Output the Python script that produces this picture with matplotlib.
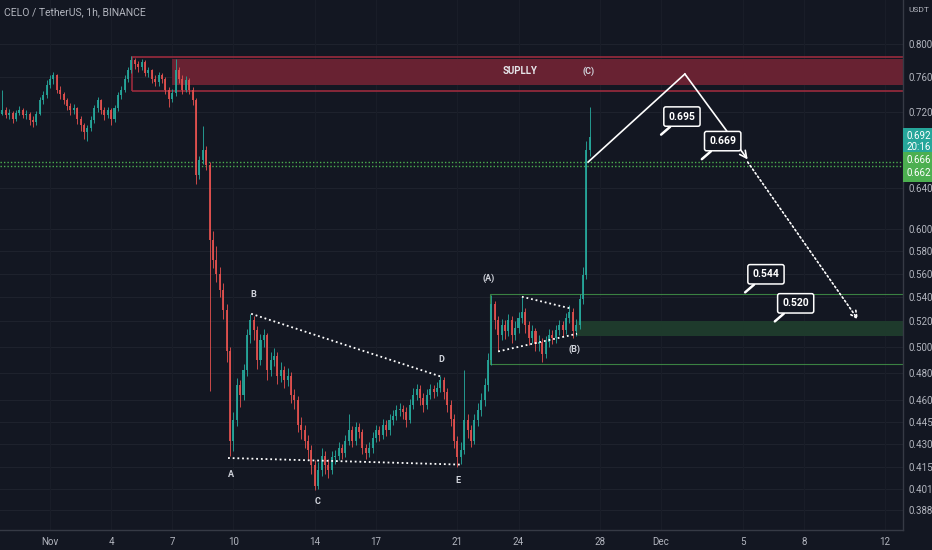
import numpy as np
import pandas as pd
import matplotlib
matplotlib.use("Agg")
import matplotlib.pyplot as plt
import matplotlib.dates as mdates
from matplotlib.patches import Rectangle
from matplotlib.ticker import FixedLocator, NullLocator
from matplotlib import font_manager

names = {f.name for f in font_manager.fontManager.ttflist}
narrow = "Liberation Sans Narrow" if "Liberation Sans Narrow" in names else "Roboto"
plt.rcParams['font.family'] = [narrow, 'DejaVu Sans']

# ---- data (4h candles, CELO/USDT) ----
first_open = 0.714
closes = [0.718, 0.722, 0.716, 0.719, 0.712, 0.719, 0.722, 0.716, 0.718, 0.711,
          0.709, 0.718, 0.733, 0.739, 0.751, 0.758, 0.762, 0.745, 0.740, 0.733,
          0.727, 0.722, 0.724, 0.712, 0.705, 0.698, 0.702, 0.711, 0.724, 0.733,
          0.722, 0.716, 0.722, 0.712, 0.724, 0.739, 0.745, 0.758, 0.768, 0.780,
          0.775, 0.772, 0.778, 0.765, 0.768, 0.758, 0.754, 0.762, 0.758, 0.745,
          0.735, 0.741, 0.768, 0.758, 0.745, 0.757, 0.745, 0.733, 0.653, 0.668,
          0.679, 0.663, 0.590, 0.572, 0.560, 0.546, 0.529, 0.497, 0.432, 0.446,
          0.471, 0.464, 0.482, 0.509, 0.521, 0.513, 0.490, 0.505, 0.509, 0.482,
          0.490, 0.493, 0.478, 0.482, 0.475, 0.478, 0.464, 0.460, 0.443, 0.439,
          0.432, 0.426, 0.416, 0.403, 0.413, 0.422, 0.416, 0.413, 0.421, 0.422,
          0.427, 0.424, 0.432, 0.439, 0.432, 0.441, 0.438, 0.427, 0.424, 0.427,
          0.434, 0.439, 0.436, 0.443, 0.439, 0.446, 0.449, 0.453, 0.454, 0.452,
          0.446, 0.457, 0.464, 0.468, 0.462, 0.457, 0.464, 0.468, 0.466, 0.469,
          0.475, 0.466, 0.457, 0.447, 0.432, 0.421, 0.426, 0.446, 0.439, 0.432,
          0.446, 0.453, 0.460, 0.471, 0.490, 0.534, 0.521, 0.509, 0.517, 0.512,
          0.521, 0.509, 0.515, 0.523, 0.528, 0.517, 0.507, 0.512, 0.502, 0.504,
          0.494, 0.504, 0.509, 0.507, 0.513, 0.517, 0.513, 0.523, 0.528, 0.512,
          0.517, 0.538, 0.559, 0.679, 0.692]
highs = [0.721, 0.745, 0.726, 0.723, 0.721, 0.722, 0.727, 0.724, 0.722, 0.720,
         0.715, 0.721, 0.737, 0.744, 0.756, 0.763, 0.766, 0.764, 0.749, 0.743,
         0.736, 0.730, 0.729, 0.726, 0.715, 0.708, 0.706, 0.715, 0.728, 0.737,
         0.735, 0.725, 0.726, 0.724, 0.728, 0.743, 0.750, 0.763, 0.772, 0.785,
         0.783, 0.779, 0.782, 0.780, 0.772, 0.770, 0.762, 0.766, 0.765, 0.760,
         0.748, 0.746, 0.781, 0.772, 0.762, 0.761, 0.759, 0.748, 0.736, 0.672,
         0.704, 0.683, 0.666, 0.598, 0.585, 0.566, 0.552, 0.534, 0.500, 0.452,
         0.476, 0.475, 0.487, 0.514, 0.526, 0.524, 0.516, 0.510, 0.514, 0.511,
         0.496, 0.499, 0.496, 0.488, 0.485, 0.484, 0.481, 0.468, 0.463, 0.448,
         0.443, 0.436, 0.429, 0.419, 0.418, 0.427, 0.425, 0.420, 0.425, 0.426,
         0.431, 0.430, 0.436, 0.450, 0.442, 0.445, 0.444, 0.440, 0.430, 0.431,
         0.438, 0.443, 0.442, 0.447, 0.446, 0.450, 0.453, 0.457, 0.458, 0.457,
         0.455, 0.461, 0.469, 0.472, 0.471, 0.465, 0.468, 0.472, 0.471, 0.473,
         0.478, 0.477, 0.469, 0.460, 0.450, 0.435, 0.431, 0.482, 0.450, 0.443,
         0.450, 0.458, 0.465, 0.476, 0.495, 0.542, 0.537, 0.524, 0.522, 0.521,
         0.526, 0.524, 0.520, 0.528, 0.540, 0.531, 0.520, 0.517, 0.515, 0.509,
         0.507, 0.508, 0.514, 0.513, 0.517, 0.521, 0.520, 0.527, 0.533, 0.531,
         0.522, 0.543, 0.566, 0.688, 0.725]
lows = [0.711, 0.716, 0.713, 0.712, 0.708, 0.710, 0.716, 0.713, 0.712, 0.706,
        0.703, 0.706, 0.716, 0.729, 0.736, 0.747, 0.752, 0.741, 0.735, 0.729,
        0.722, 0.717, 0.718, 0.707, 0.699, 0.690, 0.688, 0.699, 0.708, 0.720,
        0.718, 0.711, 0.713, 0.706, 0.709, 0.721, 0.735, 0.742, 0.754, 0.765,
        0.770, 0.766, 0.768, 0.761, 0.760, 0.753, 0.749, 0.750, 0.753, 0.740,
        0.725, 0.731, 0.738, 0.753, 0.740, 0.742, 0.740, 0.728, 0.644, 0.649,
        0.664, 0.658, 0.467, 0.565, 0.553, 0.540, 0.522, 0.488, 0.422, 0.425,
        0.442, 0.455, 0.460, 0.478, 0.503, 0.505, 0.483, 0.486, 0.500, 0.475,
        0.478, 0.485, 0.472, 0.473, 0.469, 0.470, 0.458, 0.454, 0.438, 0.433,
        0.427, 0.420, 0.410, 0.400, 0.401, 0.409, 0.410, 0.408, 0.410, 0.417,
        0.419, 0.420, 0.421, 0.429, 0.428, 0.429, 0.434, 0.423, 0.420, 0.421,
        0.424, 0.431, 0.432, 0.433, 0.435, 0.436, 0.443, 0.446, 0.449, 0.447,
        0.441, 0.444, 0.454, 0.460, 0.457, 0.452, 0.454, 0.461, 0.462, 0.463,
        0.466, 0.461, 0.452, 0.442, 0.427, 0.415, 0.417, 0.423, 0.434, 0.428,
        0.430, 0.442, 0.449, 0.456, 0.467, 0.486, 0.514, 0.497, 0.505, 0.506,
        0.508, 0.503, 0.505, 0.511, 0.519, 0.511, 0.501, 0.503, 0.497, 0.497,
        0.488, 0.491, 0.500, 0.502, 0.503, 0.509, 0.508, 0.510, 0.519, 0.507,
        0.508, 0.514, 0.534, 0.555, 0.672]
start_time = "2022-10-29 12:00"

# zones
supply_start, supply_fill_start = "2022-11-05 00:40", "2022-11-07 00:00"
supply_outer = (0.7437, 0.784)
supply_fill = (0.7507, 0.7815)
demand_start, demand_fill_start = "2022-11-22 14:00", "2022-11-26 20:00"
demand_outer = (0.487, 0.5425)
demand_fill = (0.5087, 0.5204)

# indicator lines / last price
green_levels = [0.666, 0.662]
last_price = closes[-1]
countdown = "20:16"

# triangle A-E
tri1_lines = [(["2022-11-09 17:45", "2022-11-21 04:20"], [0.4206, 0.4163]),
              (["2022-11-10 21:00", "2022-11-20 06:00"], [0.5262, 0.4770])]
tri1_labels = ["A", "B", "C", "D", "E"]
tri1_label_dates = ["2022-11-09 21:00", "2022-11-11 00:00", "2022-11-14 02:40",
                    "2022-11-20 05:00", "2022-11-21 00:40"]
tri1_label_prices = [0.4102, 0.5425, 0.3933, 0.4898, 0.4064]

# triangle (A)-(B)
tri2_lines = [(["2022-11-24 04:00", "2022-11-26 15:00"], [0.5403, 0.5303]),
              (["2022-11-23 00:00", "2022-11-26 21:00"], [0.4963, 0.5101])]
wave_labels = ["(A)", "(B)", "(C)"]
wave_label_dates = ["2022-11-22 13:00", "2022-11-26 18:30", "2022-11-27 10:00"]
wave_label_prices = [0.5559, 0.4979, 0.7672]
supply_text_date, supply_text_price = "2022-11-24 01:40", 0.7672

# projection
proj_dates = ["2022-11-27 10:00", "2022-12-02 04:00", "2022-12-05 06:00"]
proj_prices = [0.666, 0.7636, 0.6687]
proj2_dates = ["2022-12-05 06:00", "2022-12-10 16:00"]
proj2_prices = [0.666, 0.5215]

# callouts
callout_dates = ["2022-12-01 00:00", "2022-12-03 00:00", "2022-12-05 03:00", "2022-12-06 14:00"]
callout_prices = [0.695, 0.669, 0.544, 0.520]

yticks = [0.388, 0.401, 0.415, 0.430, 0.445, 0.460, 0.480, 0.500, 0.520, 0.540,
          0.560, 0.580, 0.600, 0.640, 0.720, 0.760, 0.800]
xtick_dates = ["2022-11-01", "2022-11-04", "2022-11-07", "2022-11-10", "2022-11-14",
               "2022-11-17", "2022-11-21", "2022-11-24", "2022-11-28", "2022-12-01",
               "2022-12-05", "2022-12-08", "2022-12-12"]
xtick_labels = ["Nov", "4", "7", "10", "14", "17", "21", "24", "28", "Dec", "5", "8", "12"]

# ---- style ----
BG = "#131722"
GRID = "#1e222d"
TXT = "#b2b5be"
UP, DOWN = "#26a69a", "#e0504e"

fig = plt.figure(figsize=(9.32, 5.5), dpi=100, facecolor=BG)
ax = fig.add_axes([0, 20 / 550, 903 / 932, 530 / 550], facecolor=BG)
ax.set_yscale("log")

d = lambda s: mdates.date2num(pd.Timestamp(s))

times = pd.date_range(start_time, periods=len(closes), freq="4h")
x = mdates.date2num(times)
c = np.array(closes)
o = np.concatenate([[first_open], c[:-1]])
h = np.array(highs)
l = np.array(lows)
cols = np.where(c >= o, UP, DOWN)

# grid
for yt in yticks:
    ax.axhline(yt, color=GRID, lw=0.8, zorder=0)
for xt in xtick_dates:
    ax.axvline(d(xt), color="#191d28", lw=0.8, zorder=0)

# zones
far = d("2023-01-15")
ax.add_patch(Rectangle((d(supply_start), supply_outer[0]), far - d(supply_start),
                       supply_outer[1] - supply_outer[0], fc="none", ec="#9a2b3d", lw=1.2, zorder=1))
ax.add_patch(Rectangle((d(supply_fill_start), supply_fill[0]), far - d(supply_fill_start),
                       supply_fill[1] - supply_fill[0], fc="#682232", ec="none", zorder=1))
ax.add_patch(Rectangle((d(demand_start), demand_outer[0]), far - d(demand_start),
                       demand_outer[1] - demand_outer[0], fc="none", ec="#4caf50", lw=0.8,
                       alpha=0.7, zorder=1))
ax.add_patch(Rectangle((d(demand_fill_start), demand_fill[0]), far - d(demand_fill_start),
                       demand_fill[1] - demand_fill[0], fc="#1e3a2c", ec="none", zorder=1))

# candles
ax.vlines(x, l, h, colors=cols, lw=0.7, alpha=0.9, zorder=3)
ax.bar(x, np.maximum(np.abs(c - o), 0.0008), bottom=np.minimum(o, c), width=0.1,
       color=cols, alpha=0.9, zorder=3, linewidth=0)

# indicator dotted lines
for lv in green_levels:
    ax.axhline(lv, color="#4caf50", lw=1.0, ls=(0, (1, 1.5)), zorder=2)

# triangles
for ds, ps in tri1_lines + tri2_lines:
    ax.plot([d(s) for s in ds], ps, color="white", lw=1.3, ls=(0, (1, 1.6)), zorder=4)
lab_kw = dict(color="#d1d4dc", fontsize=6.5, fontweight="bold", ha="center", va="center", zorder=5)
for t, ds, p in zip(tri1_labels, tri1_label_dates, tri1_label_prices):
    ax.text(d(ds), p, t, **lab_kw)
for t, ds, p in zip(wave_labels, wave_label_dates, wave_label_prices):
    ax.text(d(ds), p, t, **lab_kw)
ax.text(d(supply_text_date), supply_text_price, "SUPLLY", color="#e6e6ea", fontsize=7,
        fontweight="bold", ha="center", va="center", zorder=5)

# projection path
px = [d(s) for s in proj_dates]
ax.plot(px[:2], proj_prices[:2], color="white", lw=1.2, zorder=5)
ax.annotate("", xy=(px[2], proj_prices[2]), xytext=(px[1], proj_prices[1]),
            arrowprops=dict(arrowstyle="->,head_length=0.5,head_width=0.25", color="white",
                            lw=1.2, shrinkA=0, shrinkB=0), zorder=5)
ax.annotate("", xy=(d(proj2_dates[1]), proj2_prices[1]), xytext=(d(proj2_dates[0]), proj2_prices[0]),
            arrowprops=dict(arrowstyle="->,head_length=0.5,head_width=0.25", color="white",
                            lw=1.2, ls=(0, (1, 1.6)), shrinkA=0, shrinkB=0), zorder=5)

# callouts
for ds, p in zip(callout_dates, callout_prices):
    ax.annotate(f"{p:.3f}", xy=(d(ds), p), xytext=(15, 13), textcoords="offset points",
                ha="center", va="center", color="white", fontsize=7.5, fontweight="bold",
                bbox=dict(boxstyle="round,pad=0.45,rounding_size=0.2", fc=BG, ec="white", lw=1.1),
                arrowprops=dict(arrowstyle="-", color="white", lw=1.8, shrinkA=0, shrinkB=0),
                zorder=6)

# axes
ax.set_xlim(d("2022-11-01") - 2.4546, d("2022-11-01") + 41.875)
ax.set_ylim(0.3761, 0.8566)
for s in ["top", "left"]:
    ax.spines[s].set_visible(False)
for s in ["right", "bottom"]:
    ax.spines[s].set_color("#363a45")
    ax.spines[s].set_linewidth(1)
ax.yaxis.tick_right()
ax.yaxis.set_major_locator(FixedLocator(yticks))
ax.yaxis.set_minor_locator(NullLocator())
ax.set_yticklabels([f"{v:.3f}" for v in yticks])
ax.set_xticks([d(s) for s in xtick_dates])
ax.set_xticklabels(xtick_labels)
ax.tick_params(axis="both", length=0, colors=TXT, labelsize=7)
ax.tick_params(axis="y", pad=4)
ax.tick_params(axis="x", pad=5)

# right axis price labels
ax.annotate(f"{last_price:.3f}\n{countdown}", xy=(1.0, last_price), xycoords=("axes fraction", "data"),
            xytext=(2.8, -3.2), textcoords="offset points", ha="left", va="center", color="white",
            fontsize=7, linespacing=1.15, annotation_clip=False,
            bbox=dict(boxstyle="square,pad=0.35", fc=UP, ec="none"))
ax.annotate(f"{green_levels[0]:.3f}\n{green_levels[1]:.3f}", xy=(1.0, green_levels[0]),
            xycoords=("axes fraction", "data"), xytext=(2.8, -3.4), textcoords="offset points",
            ha="left", va="center", color="white", fontsize=7, linespacing=1.35,
            annotation_clip=False, bbox=dict(boxstyle="square,pad=0.35", fc="#4caf50", ec="none"))

fig.text(4 / 932, 1 - 12 / 550, "CELO / TetherUS, 1h, BINANCE", color=TXT, fontsize=7.5,
         ha="left", va="center")
fig.text(908 / 932, 1 - 10 / 550, "USDT", color=TXT, fontsize=6, ha="left", va="center")

fig.savefig("out.png", dpi=100, facecolor=BG)
